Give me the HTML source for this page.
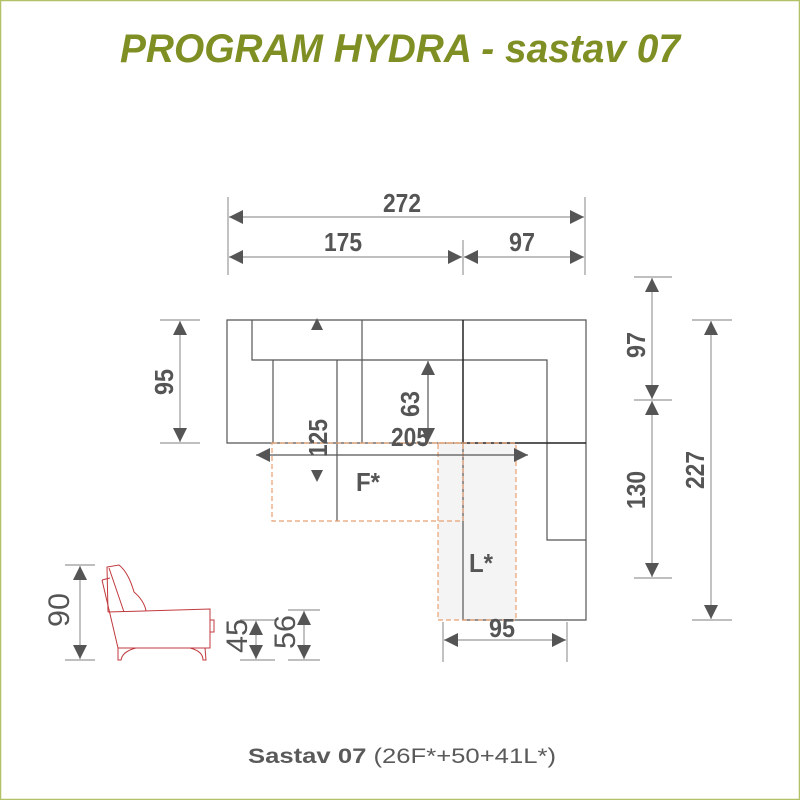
<!DOCTYPE html>
<html><head><meta charset="utf-8"><style>
html,body{margin:0;padding:0;background:#fff;}
svg{display:block;}
.d{font-family:"Liberation Sans",sans-serif;fill:#555;font-size:26px;font-weight:bold;}
.n{font-family:"Liberation Sans",sans-serif;fill:#555;font-size:30px;font-weight:normal;}
</style></head><body>
<svg width="800" height="800" viewBox="0 0 800 800" xmlns="http://www.w3.org/2000/svg">
<defs>
<marker id="a" viewBox="0 0 10 10" refX="10" refY="5" markerWidth="14" markerHeight="14" markerUnits="userSpaceOnUse" orient="auto-start-reverse"><path d="M0,0L10,5L0,10z" fill="#555"/></marker>
</defs>
<rect x="0.5" y="0.5" width="799" height="799" fill="none" stroke="#b3c266" stroke-width="1.5"/>
<text x="400" y="62" text-anchor="middle" font-family="'Liberation Sans',sans-serif" font-style="italic" font-weight="bold" font-size="40" fill="#7f8f24" textLength="560" lengthAdjust="spacingAndGlyphs">PROGRAM HYDRA - sastav 07</text>

<g stroke="#999" stroke-width="1.2" fill="none">
<line x1="228" y1="197" x2="228" y2="275"/><line x1="585" y1="197" x2="585" y2="275"/><line x1="463" y1="240" x2="463" y2="275"/>
<line x1="160" y1="320" x2="200" y2="320"/><line x1="160" y1="443" x2="200" y2="443"/>
<line x1="634" y1="277" x2="672" y2="277"/><line x1="634" y1="400" x2="672" y2="400"/><line x1="634" y1="578" x2="672" y2="578"/>
<line x1="692" y1="320" x2="732" y2="320"/><line x1="692" y1="620" x2="732" y2="620"/>
<line x1="443" y1="622" x2="443" y2="662"/><line x1="567" y1="622" x2="567" y2="662"/>
<line x1="65" y1="565" x2="95" y2="565"/><line x1="65" y1="660" x2="95" y2="660"/>
<line x1="240" y1="620" x2="275" y2="620"/><line x1="240" y1="660" x2="275" y2="660"/>
<line x1="288" y1="610" x2="320" y2="610"/><line x1="288" y1="660" x2="320" y2="660"/>
</g>
<g stroke="#999" stroke-width="1.2" marker-start="url(#a)" marker-end="url(#a)">
<line x1="229" y1="217" x2="584" y2="217"/>
<line x1="229" y1="257" x2="462" y2="257"/>
<line x1="464" y1="257" x2="584" y2="257"/>
<line x1="180" y1="321" x2="180" y2="442"/>
<line x1="652" y1="278" x2="652" y2="399"/>
<line x1="652" y1="401" x2="652" y2="577"/>
<line x1="711" y1="321" x2="711" y2="619"/>
<line x1="444" y1="640" x2="566" y2="640"/>
<line x1="80" y1="566" x2="80" y2="659"/>
<line x1="256" y1="621" x2="256" y2="659"/>
<line x1="304" y1="611" x2="304" y2="659"/>
</g>

<rect x="438" y="443" width="78" height="177" fill="#f4f4f4"/>
<g stroke="#555" stroke-width="1.2" fill="none">
<path d="M227,320H586V620H463V443H227Z"/>
<path d="M252,320V360H547V540H586"/>
<line x1="273" y1="360" x2="273" y2="443"/>
<line x1="337" y1="360" x2="337" y2="521"/>
<line x1="362" y1="320" x2="362" y2="443"/>
</g>
<g stroke="#222" stroke-width="1.5"><line x1="463" y1="443" x2="586" y2="443"/><line x1="463" y1="320" x2="463" y2="443"/></g>
<g stroke="#e8a070" stroke-width="1.2" stroke-dasharray="5,3" fill="none">
<path d="M272,443H463V521H272Z"/>
<path d="M438,443H516V620H438Z"/>
</g>
<g stroke="#555" stroke-width="1.2" marker-start="url(#a)" marker-end="url(#a)">
<line x1="256" y1="455" x2="528" y2="455"/>
<line x1="428" y1="361" x2="428" y2="442"/>
</g>
<path d="M311,330L317,318L323,330Z" fill="#555"/>
<path d="M311,470L317,482L323,470Z" fill="#555"/>

<g stroke="#c0393d" stroke-width="1" fill="none">
<path d="M108,612L107,567L119,565C128,572 132,585 134,592C140,597 145,604 146,611"/>
<path d="M109,568L124,612"/>
<path d="M102,580L110,578"/>
<path d="M102,580L118,648"/>
<path d="M108,612L210,609V648H118"/>
<path d="M210,620H214V632H210"/>
<path d="M118,648L118,660H121C122,654 128,650 136,648"/>
<path d="M190,648C198,650 203,654 203,660H206L205,648"/>
</g>

<text class="d" x="402" y="212" text-anchor="middle" textLength="38" lengthAdjust="spacingAndGlyphs">272</text>
<text class="d" x="343" y="251" text-anchor="middle" textLength="38" lengthAdjust="spacingAndGlyphs">175</text>
<text class="d" x="522" y="251" text-anchor="middle" textLength="26" lengthAdjust="spacingAndGlyphs">97</text>
<text class="d" x="502" y="637" text-anchor="middle" textLength="26" lengthAdjust="spacingAndGlyphs">95</text>
<text class="d" x="410" y="446" text-anchor="middle" textLength="38" lengthAdjust="spacingAndGlyphs">205</text>
<text class="d" x="368" y="491" text-anchor="middle" textLength="24" lengthAdjust="spacingAndGlyphs">F*</text>
<text class="d" x="481" y="572" text-anchor="middle" textLength="24" lengthAdjust="spacingAndGlyphs">L*</text>
<text class="d" transform="translate(173,382) rotate(-90)" text-anchor="middle" textLength="26" lengthAdjust="spacingAndGlyphs">95</text>
<text class="d" transform="translate(419,404) rotate(-90)" text-anchor="middle" textLength="26" lengthAdjust="spacingAndGlyphs">63</text>
<text class="d" transform="translate(327,438) rotate(-90)" text-anchor="middle" textLength="38" lengthAdjust="spacingAndGlyphs">125</text>
<text class="d" transform="translate(645,345) rotate(-90)" text-anchor="middle" textLength="26" lengthAdjust="spacingAndGlyphs">97</text>
<text class="d" transform="translate(645,490) rotate(-90)" text-anchor="middle" textLength="38" lengthAdjust="spacingAndGlyphs">130</text>
<text class="d" transform="translate(704,470) rotate(-90)" text-anchor="middle" textLength="38" lengthAdjust="spacingAndGlyphs">227</text>
<text class="n" transform="translate(69,610) rotate(-90)" text-anchor="middle" textLength="34" lengthAdjust="spacingAndGlyphs">90</text>
<text class="n" transform="translate(247,636) rotate(-90)" text-anchor="middle" textLength="34" lengthAdjust="spacingAndGlyphs">45</text>
<text class="n" transform="translate(295,632) rotate(-90)" text-anchor="middle" textLength="34" lengthAdjust="spacingAndGlyphs">56</text>

<text x="248" y="763" font-family="'Liberation Sans',sans-serif" font-size="21" fill="#5a5a5a" textLength="308" lengthAdjust="spacingAndGlyphs"><tspan font-weight="bold">Sastav 07</tspan> (26F*+50+41L*)</text>
</svg>
</body></html>
